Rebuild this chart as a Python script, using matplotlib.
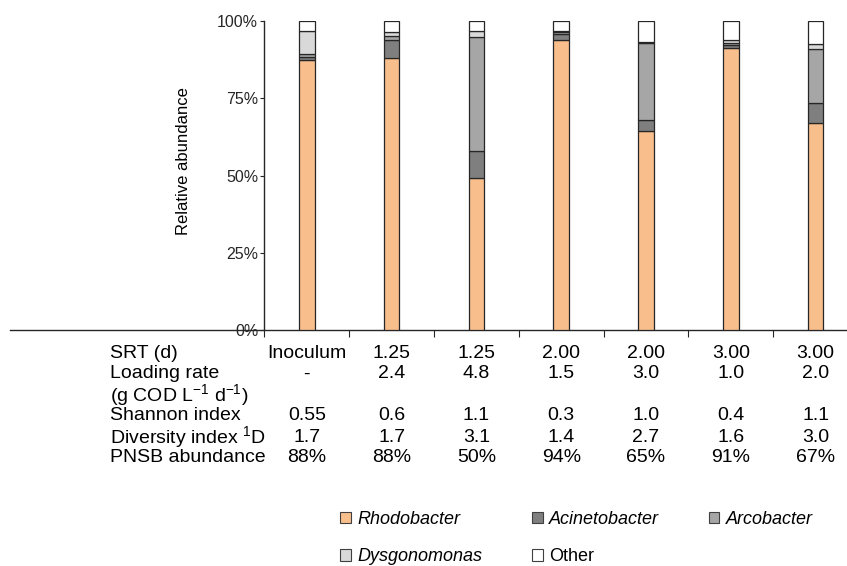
import matplotlib
matplotlib.use("Agg")
import matplotlib.pyplot as plt
import matplotlib.transforms as mtransforms
from matplotlib.patches import Patch
import numpy as np

plt.rcParams['font.family'] = ['Liberation Sans', 'DejaVu Sans']
plt.rcParams['mathtext.fontset'] = 'custom'
plt.rcParams['mathtext.rm'] = 'Liberation Sans'
plt.rcParams['mathtext.it'] = 'Liberation Sans:italic'

# ---- data ----
samples = ["Inoculum", "1.25/2.4", "1.25/4.8", "2.00/1.5", "2.00/3.0", "3.00/1.0", "3.00/2.0"]
rhodobacter   = [87.5, 88.0, 49.3, 94.0, 64.4, 91.2, 66.9]
acinetobacter = [1.0, 5.8, 8.7, 1.9, 3.6, 1.0, 6.5]
arcobacter    = [0.8, 1.3, 36.9, 0.5, 25.0, 0.8, 17.4]
dysgonomonas  = [7.6, 1.4, 1.9, 0.4, 0.2, 0.8, 1.8]
other         = [3.1, 3.5, 3.2, 3.2, 6.8, 6.2, 7.4]

series_names = ["Rhodobacter", "Acinetobacter", "Arcobacter", "Dysgonomonas", "Other"]
series_colors = ["#F8BF8C", "#7F7F7F", "#A6A6A6", "#D9D9D9", "#FFFFFF"]
series_italic = [True, True, True, True, False]

yticks = [0, 25, 50, 75, 100]
ytick_labels = ["0%", "25%", "50%", "75%", "100%"]

row_labels = ["SRT (d)", "Loading rate", "(g COD L$^{\\mathregular{-1}}$ d$^{\\mathregular{-1}}$)",
              "Shannon index", "Diversity index $^{\\mathregular{1}}$D", "PNSB abundance"]
srt_row      = ["Inoculum", "1.25", "1.25", "2.00", "2.00", "3.00", "3.00"]
loading_row  = ["-", "2.4", "4.8", "1.5", "3.0", "1.0", "2.0"]
shannon_row  = ["0.55", "0.6", "1.1", "0.3", "1.0", "0.4", "1.1"]
diversity_row = ["1.7", "1.7", "3.1", "1.4", "2.7", "1.6", "3.0"]
pnsb_row     = ["88%", "88%", "50%", "94%", "65%", "91%", "67%"]

# ---- figure ----
W, H = 847, 566
fig = plt.figure(figsize=(W / 100, H / 100), dpi=100)
ax = fig.add_axes([10 / W, 1 - 330 / H, 1 - 10 / W, (330 - 21) / H])

x = np.arange(len(samples))
bottom = np.zeros(len(samples))
series = [rhodobacter, acinetobacter, arcobacter, dysgonomonas, other]
for vals, col in zip(series, series_colors):
    ax.bar(x, vals, width=0.185, bottom=bottom, color=col,
           edgecolor="#262626", linewidth=0.9, zorder=3)
    bottom += np.array(vals)

ax.set_xlim(-3.5, 6.37)
ax.set_ylim(0, 100)

for s in ["top", "right"]:
    ax.spines[s].set_visible(False)
ax.spines["left"].set_position(("data", -0.5))
ax.spines["left"].set_color("#262626")
ax.spines["bottom"].set_color("#262626")
ax.spines["left"].set_linewidth(1.0)
ax.spines["bottom"].set_linewidth(1.0)

ax.set_yticks(yticks)
ax.set_yticklabels(ytick_labels, fontsize=11.5)
ax.tick_params(axis="y", length=3, width=0.8, pad=1.5, colors="#262626", labelcolor="#262626")
ax.set_xticks(np.arange(-0.5, 6.0, 1.0))
ax.set_xticklabels([])
ax.tick_params(axis="x", length=5, width=0.8, direction="out", colors="#262626")

ax.set_ylabel("Relative abundance", fontsize=12, color="#000000")
ax.yaxis.set_label_coords(191 / W, 1 - 161 / H, transform=fig.transFigure)

# ---- table below ----
trans = mtransforms.blended_transform_factory(ax.transData, fig.transFigure)
row_y = [353, 374, 395, 416, 437, 458]
tfs = 14
for lbl, yy in zip(row_labels, row_y):
    fig.text(110 / W, 1 - yy / H, lbl, fontsize=tfs, ha="left", va="center", color="#000000")
rows = [srt_row, loading_row, None, shannon_row, diversity_row, pnsb_row]
for r, yy in zip(rows, row_y):
    if r is None:
        continue
    for xi, txt in zip(x, r):
        ax.text(xi, 1 - yy / H, txt, transform=trans, fontsize=tfs,
                ha="center", va="center", color="#000000")

# ---- legend ----
handles = [Patch(facecolor=c, edgecolor="#404040", linewidth=0.8) for c in series_colors]
order = [0, 3, 1, 4, 2]
leg = fig.legend([handles[i] for i in order], [series_names[i] for i in order],
                 ncol=3, loc="center left", bbox_to_anchor=(340 / W, 1 - 538 / H),
                 frameon=False, fontsize=13, handlelength=0.6, handleheight=0.6,
                 handletextpad=0.35, columnspacing=2.75, labelspacing=1.15,
                 borderaxespad=0, borderpad=0)
for t, i in zip(leg.get_texts(), order):
    if series_italic[i]:
        t.set_fontstyle("italic")

fig.savefig("out.png", dpi=100)
